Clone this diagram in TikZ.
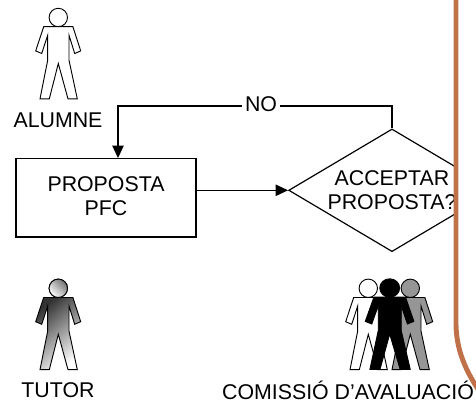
\documentclass[tikz,border=0pt]{standalone}
\usepackage{fontspec}
\setmainfont{Liberation Sans}
\usetikzlibrary{shapes.geometric,arrows.meta}
\definecolor{brownline}{HTML}{C0714A}
\definecolor{midgrey}{HTML}{969696}
\tikzset{
  x=0.75pt,y=-0.75pt,
  outl/.style={draw=black,line width=0.7pt},
  flow/.style={draw=black,line width=0.9pt},
  tip/.style={-{Triangle[length=9.3pt,width=8.5pt,fill=black]}},
  lab/.style={font=\fontsize{16pt}{18pt}\selectfont,inner sep=0pt,align=center},
  person/.pic={
    \path[pic actions] (0,0) circle[radius=9.2];
    \path[pic actions] (-14.6,9.2) -- (14.6,9.2) -- (22.4,33.4) -- (16.4,36) -- (10.7,17.7) -- (10.7,42.7)
      -- (19,81.4) -- (9.7,81.4) -- (0,46) -- (-9,81.4) -- (-18.3,81.4) -- (-10.6,42.7) -- (-10.6,17.7)
      -- (-16.6,36) -- (-22.6,33.4) -- cycle;
  }
}
\begin{document}
\begin{tikzpicture}
\useasboundingbox (0,0) rectangle (476,403);
\fill[white] (0,0) rectangle (476,403);
% actors
\pic[outl,fill=white] at (58.3,17.5) {person};
\node[lab] (alumne) at (58,120) {ALUMNE};
\pic[outl,left color=black!80,right color=white,shading angle=40] at (58.3,288.3) {person};
\draw[outl,left color=white,right color=black!55,shading angle=135] (58.3,288.3) circle[radius=9.2];
\node[lab] (tutor) at (58,390) {TUTOR};
\pic[outl,fill=white] at (368.3,288.3) {person};
\pic[outl,fill=midgrey] at (410.3,288.3) {person};
\pic[outl,fill=black,xscale=1.08] at (389.7,288) {person};
% flow
\node[flow,rectangle,minimum width=135pt,minimum height=58.7pt,inner sep=0pt,
  label={[lab,yshift=1.6pt]center:{PROPOSTA\\PFC}}] (prop) at (106,197.8) {};
\node[flow,diamond,aspect=1.684,minimum width=155pt,minimum height=92pt,inner sep=0pt,lab] (dec) at (392,190.3) {ACCEPTAR\\PROPOSTA?};
\coordinate (turn) at (118,106);
\draw[flow,tip] (prop.east |- dec.west) -- (dec.west);
\draw[flow,tip] (dec.north) |- (turn) -- (prop.north -| turn);
\node[lab,fill=white,inner xsep=2.5pt] (no) at (261,104) {NO};
% border
\fill[white] (456,0) rectangle (476,403);
\path[draw=brownline,line width=3.7pt] (456,-5) -- (456,325) .. controls (456.5,345) and (462,366) .. (480,392);
\node[lab] (comissio) at (348,390) {COMISSIÓ D’AVALUACIÓ};
\end{tikzpicture}
\end{document}
